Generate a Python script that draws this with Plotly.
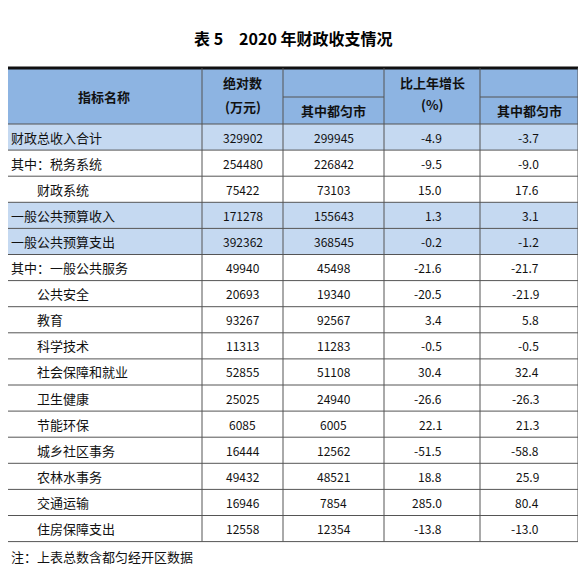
import plotly.graph_objects as go

names = ["财政总收入合计", "其中：税务系统", "　　财政系统", "一般公共预算收入", "一般公共预算支出",
         "其中：一般公共服务", "　　公共安全", "　　教育", "　　科学技术", "　　社会保障和就业",
         "　　卫生健康", "　　节能环保", "　　城乡社区事务", "　　农林水事务", "　　交通运输", "　　住房保障支出"]
total = ["329902", "254480", "75422", "171278", "392362", "49940", "20693", "93267", "11313",
         "52855", "25025", "6085", "16444", "49432", "16946", "12558"]
total_dy = ["299945", "226842", "73103", "155643", "368545", "45498", "19340", "92567", "11283",
            "51108", "24940", "6005", "12562", "48521", "7854", "12354"]
growth = ["-4.9", "-9.5", "15.0", "1.3", "-0.2", "-21.6", "-20.5", "3.4", "-0.5",
          "30.4", "-26.6", "22.1", "-51.5", "18.8", "285.0", "-13.8"]
growth_dy = ["-3.7", "-9.0", "17.6", "3.1", "-1.2", "-21.7", "-21.9", "5.8", "-0.5",
             "32.4", "-26.3", "21.3", "-58.8", "25.9", "80.4", "-13.0"]
highlight = [0, 3, 4]

# page body has an 8px margin, so the plot area starts at window pixel 8
off = 8
cols = [5, 202, 283, 384, 480, 578]
h_top, h_bot, row_h = 68, 124, 26.1
font = "Noto Sans CJK SC"
hdr_c, hl_c, line_c = "#8db4e2", "#c5d9f1", "#555555"

fig = go.Figure()
shapes, ann = [], []

def rect(x0, y0, x1, y1, color):
    shapes.append(dict(type="rect", x0=x0, y0=y0, x1=x1, y1=y1, fillcolor=color, line_width=0, layer="below"))

def line(x0, y0, x1, y1, w=1, c=line_c):
    shapes.append(dict(type="line", x0=x0, y0=y0, x1=x1, y1=y1, line=dict(color=c, width=w)))

def text(x, y, s, size=13, bold=False, anchor="center", color="#111"):
    if bold:
        s = "<b>" + s + "</b>"
    ann.append(dict(x=x, y=y, text=s, showarrow=False, xanchor=anchor, yanchor="middle",
                    font=dict(family=font, size=size, color=color)))

rect(cols[0], h_top, cols[-1], h_bot, hdr_c)
bottom = h_bot + row_h * len(names)
for i in highlight:
    rect(cols[0], h_bot + i * row_h, cols[-1], h_bot + (i + 1) * row_h, hl_c)

line(cols[0], h_top, cols[-1], h_top, w=3, c="#111")
line(cols[0], h_bot, cols[-1], h_bot)
mid = 97
line(cols[2], mid, cols[3], mid)
line(cols[4], mid, cols[5], mid)
for i in range(1, len(names) + 1):
    line(cols[0], h_bot + i * row_h, cols[-1], h_bot + i * row_h)
for x in cols:
    line(x, h_top, x, bottom)

text(293, 38, "表 5　2020 年财政收支情况", size=16, bold=True, color="#000")
text((cols[0] + cols[1]) / 2, 96, "指标名称", bold=True)
text((cols[1] + cols[2]) / 2, 82, "绝对数", bold=True)
text((cols[1] + cols[2]) / 2, 106, "(万元)", bold=True)
text((cols[2] + cols[3]) / 2, 110, "其中都匀市", bold=True)
text((cols[3] + cols[4]) / 2, 82, "比上年增长", bold=True)
text((cols[3] + cols[4]) / 2, 104, "(%)", bold=True)
text((cols[4] + cols[5]) / 2, 110, "其中都匀市", bold=True)

for i in range(len(names)):
    y = h_bot + (i + 0.5) * row_h
    text(cols[0] + 4, y, names[i], anchor="left")
    text((cols[1] + cols[2]) / 2, y, total[i], size=12)
    text((cols[2] + cols[3]) / 2, y, total_dy[i], size=12)
    text((cols[3] + cols[4]) / 2 + 12, y, growth[i], size=12, anchor="right")
    text((cols[4] + cols[5]) / 2 + 12, y, growth_dy[i], size=12, anchor="right")

text(cols[0] + 4, 556, "注：上表总数含都匀经开区数据", anchor="left")

fig.update_layout(
    width=586 - 2 * off, height=574 - 2 * off, margin=dict(l=0, r=0, t=0, b=0),
    plot_bgcolor="white", paper_bgcolor="white",
    xaxis=dict(range=[off, 586 - off], visible=False, fixedrange=True),
    yaxis=dict(range=[574 - off, off], visible=False, fixedrange=True),
    shapes=shapes, annotations=ann, showlegend=False,
)
fig.write_html("out.html", config={"displayModeBar": False})
